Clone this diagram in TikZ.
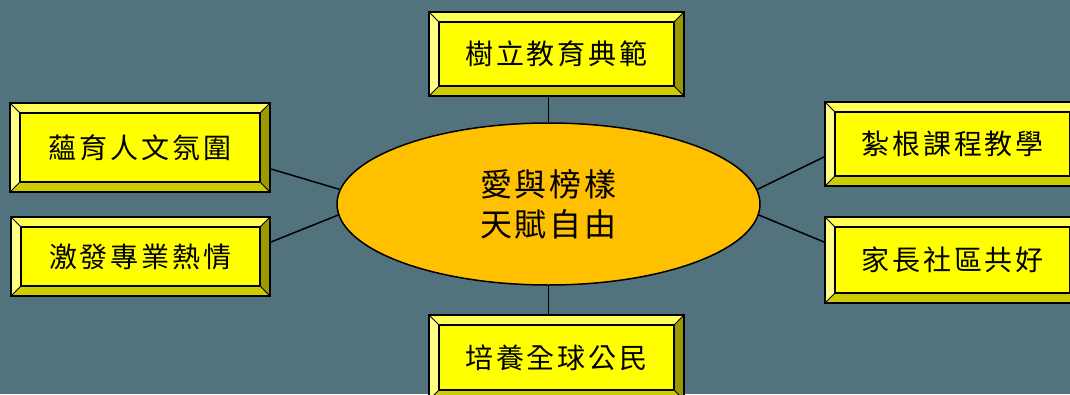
\documentclass[tikz,border=0pt]{standalone}
\usepackage{fontspec}
\newfontfamily\cjk{Noto Sans CJK TC}
\usetikzlibrary{calc,shapes.geometric}
\definecolor{bg}{HTML}{52727D}
\definecolor{boxface}{HTML}{FFFF00}
\definecolor{bvtop}{HTML}{FFFF55}
\definecolor{bvleft}{HTML}{FFFF88}
\definecolor{bvright}{HTML}{999900}
\definecolor{bvbottom}{HTML}{CCCC00}
\definecolor{ellfill}{HTML}{FFC000}
\newcommand\ks{\hspace{3pt}}
\tikzset{
  bevelbox/.style={rectangle, draw=black, line width=2pt, inner sep=0pt,
    font=\cjk\fontsize{28}{32}\selectfont, text=black,
    path picture={
      \path (path picture bounding box.south west) coordinate (SW)
            (path picture bounding box.north east) coordinate (NE);
      \coordinate (SWi) at ($(SW)+(10,-10)$);
      \coordinate (NEi) at ($(NE)+(-10,10)$);
      \fill[boxface] (SW) rectangle (NE);
      \fill[bvtop] (SW|-NE) -- (NE) -- (NEi) -- (SWi|-NEi) -- cycle;
      \fill[bvleft] (SW) -- (SW|-NE) -- (SWi|-NEi) -- (SWi) -- cycle;
      \fill[bvright] (NE) -- (NE|-SW) -- (NEi|-SWi) -- (NEi) -- cycle;
      \fill[bvbottom] (SW) -- (NE|-SW) -- (NEi|-SWi) -- (SWi) -- cycle;
      \draw[black, line width=1.5pt] (SWi) rectangle (NEi);
      \draw[black, line width=0.8pt] (SW) -- (SWi) (NE) -- (NEi)
         (SW|-NE) -- (SWi|-NEi) (NE|-SW) -- (NEi|-SWi);
    }},
  conn/.style={draw=black, line width=1.5pt},
  hub/.style={ellipse, draw=black, line width=1.5pt, fill=ellfill, inner sep=0pt,
    minimum width=423pt, minimum height=162pt, align=center,
    font=\cjk\fontsize{32}{40}\selectfont, text=black}
}
\begin{document}
\begin{tikzpicture}[x=1pt,y=-1pt]
\useasboundingbox (0,0) rectangle (1070,394);
\fill[bg] (0,0) rectangle (1070,394);

\node[bevelbox, minimum width=255pt, minimum height=84pt] (t) at (556.5,54)
  {\raisebox{-3pt}{樹\ks 立\ks 教\ks 育\ks 典\ks 範}};
\node[bevelbox, minimum width=260pt, minimum height=89pt] (l1) at (140,147.5)
  {\raisebox{-3pt}{蘊\ks 育\ks 人\ks 文\ks 氛\ks 圍}};
\node[bevelbox, minimum width=259pt, minimum height=79pt] (l2) at (140.5,256.5)
  {\raisebox{-3pt}{激\ks 發\ks 專\ks 業\ks 熱\ks 情}};
\node[bevelbox, minimum width=255pt, minimum height=84pt] (r1) at (952.5,144)
  {\raisebox{-3pt}{紮\ks 根\ks 課\ks 程\ks 教\ks 學}};
\node[bevelbox, minimum width=255pt, minimum height=86pt] (r2) at (952.5,260)
  {\raisebox{-3pt}{家\ks 長\ks 社\ks 區\ks 共\ks 好}};
\node[bevelbox, minimum width=255pt, minimum height=85pt] (b) at (556.5,357.5)
  {\raisebox{-3pt}{培\ks 養\ks 全\ks 球\ks 公\ks 民}};

\node[hub] (c) at (548.5,204) {愛\ks 與\ks 榜\ks 樣\\天\ks 賦\ks 自\ks 由};

\draw[conn] (t.south -| c.north) -- (c.north);
\draw[conn] (c.south) -- (b.north -| c.south);
\draw[conn] ($(l1.east)+(0,21.5)$) -- (c.176.8);
\draw[conn] ($(l2.east)+(0,-14.5)$) -- (c.183.5);
\draw[conn] ($(r1.west)+(0,13)$) -- (c.4.9);
\draw[conn] ($(r2.west)+(0,-18)$) -- (c.-3.5);
\end{tikzpicture}
\end{document}
